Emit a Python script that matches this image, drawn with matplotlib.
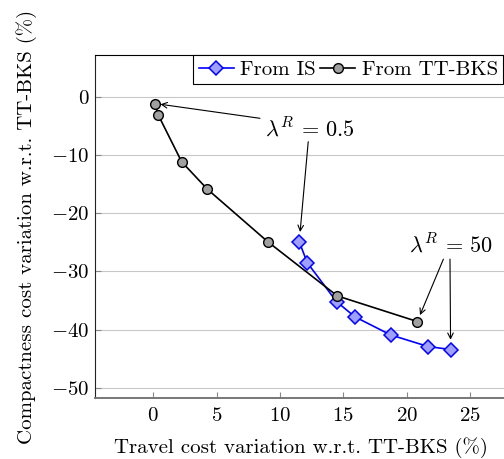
import matplotlib
matplotlib.use('Agg')
import matplotlib.pyplot as plt

plt.rcParams['font.family'] = 'serif'
plt.rcParams['font.serif'] = ['cmr10', 'DejaVu Serif']
plt.rcParams['mathtext.fontset'] = 'cm'
plt.rcParams['axes.formatter.use_mathtext'] = True
plt.rcParams['axes.unicode_minus'] = True

# data
tt_x = [0.13, 0.4, 2.24, 4.27, 9.03, 14.52, 20.84]
tt_y = [-1.2, -3.2, -11.2, -15.9, -24.9, -34.2, -38.6]
is_x = [11.52, 12.15, 14.47, 15.92, 18.74, 21.71, 23.47]
is_y = [-24.9, -28.5, -35.2, -37.8, -40.9, -42.9, -43.4]

xticks = [0, 5, 10, 15, 20, 25]
yticks = [0, -10, -20, -30, -40, -50]

fig = plt.figure(figsize=(5.04, 4.59), dpi=100)
ax = fig.add_axes([95/504, 60.7/459, 412/504, 343.3/459])

ax.plot(is_x, is_y, color='#0000ff', lw=1.2, marker='D', ms=7.5,
        mfc='#9f9fff', mec='#0000ff', mew=1.1, label='From IS', zorder=3)
ax.plot(tt_x, tt_y, color='black', lw=1.2, marker='o', ms=7,
        mfc='#a0a0a0', mec='black', mew=1.0, label='From TT-BKS', zorder=3)

ax.set_xlim(-4.6, 27.92)
ax.set_ylim(-51.77, 7.12)
ax.set_xticks(xticks)
ax.set_yticks(yticks)

ax.grid(True, axis='y', color='#c8c8c8', lw=0.8)
ax.set_axisbelow(True)
ax.tick_params(direction='in', length=4, color='#888888', labelsize=15, width=0.8)
ax.tick_params(axis='x', pad=6)
ax.tick_params(axis='y', pad=4)

ax.spines['right'].set_visible(False)
ax.spines['top'].set_color('black')
ax.spines['left'].set_color('#222222')
ax.spines['bottom'].set_color('#777777')
ax.spines['bottom'].set_linewidth(1.4)

ax.set_xlabel('Travel cost variation w.r.t. TT-BKS (%)', fontsize=15, labelpad=9)
ax.set_ylabel('Compactness cost variation w.r.t. TT-BKS (%)', fontsize=15, labelpad=10)

# annotations
arr = dict(arrowstyle='->', color='black', lw=0.8, shrinkA=0, shrinkB=4)
ax.text(12.37, -5.45, r'$\lambda^R\,=\,0.5$', fontsize=16, ha='center', va='center')
ax.annotate('', xy=(tt_x[0], tt_y[0]), xytext=(8.42, -3.74), arrowprops=arr)
ax.annotate('', xy=(is_x[0], is_y[0]), xytext=(12.23, -7.75),
            arrowprops=dict(arr, shrinkB=7))
ax.text(23.47, -25.3, r'$\lambda^R\,=\,50$', fontsize=16, ha='center', va='center')
ax.annotate('', xy=(tt_x[-1], tt_y[-1]), xytext=(22.9, -27.9),
            arrowprops=dict(arr, shrinkB=5))
ax.annotate('', xy=(is_x[-1], is_y[-1]), xytext=(23.42, -27.9),
            arrowprops=dict(arr, shrinkB=7))

leg = ax.legend(loc='upper right', bbox_to_anchor=(503/504, 1 - 55/459),
                bbox_transform=fig.transFigure, ncol=2, fontsize=15,
                frameon=True, fancybox=False, framealpha=1, edgecolor='black',
                borderaxespad=0, handlelength=1.7, handletextpad=0.3,
                columnspacing=0.2, borderpad=0.25)
leg.get_frame().set_linewidth(0.8)

fig.savefig('out.png', dpi=100)
